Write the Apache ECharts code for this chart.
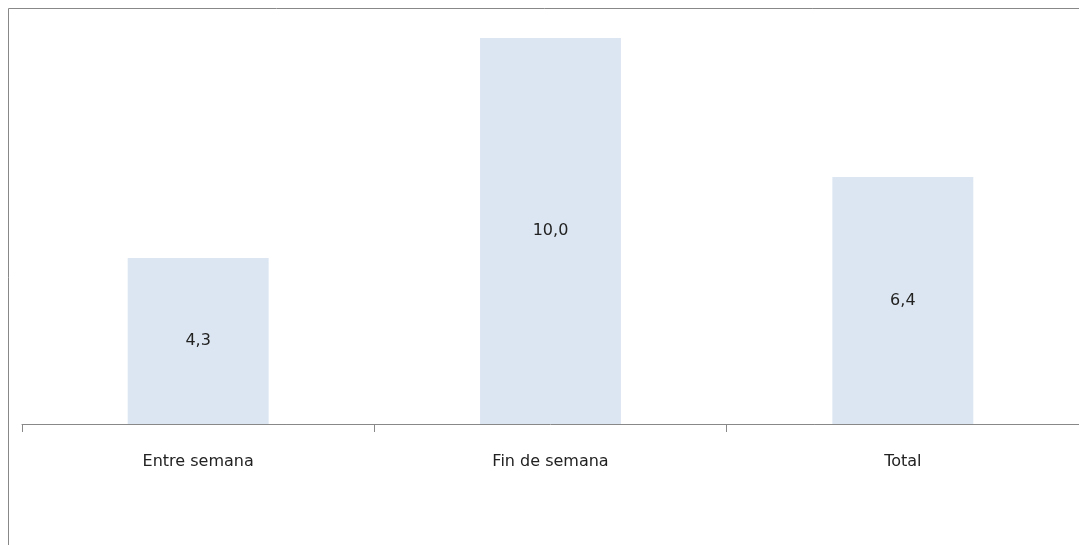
<!DOCTYPE html>
<html><head><meta charset="utf-8">
<script src="https://cdn.jsdelivr.net/npm/echarts@6/dist/echarts.min.js"></script>
<style>html,body{margin:0;padding:0;background:#fff}#c{width:1079px;height:545px}</style>
</head><body><div id="c"></div>
<script>
const categories = ['Entre semana', 'Fin de semana', 'Total'];
const values = [4.3, 10.0, 6.4];
const chart = echarts.init(document.getElementById('c'));
chart.setOption({
  animation: false,
  graphic: [{type:'rect', shape:{x:8.5,y:8.5,width:1100,height:600}, style:{fill:'none', stroke:'#888', lineWidth:1}}],
  grid: {left: 22, right: 0, top: 38, bottom: 121},
  xAxis: {type:'category', data: categories,
    axisLine:{lineStyle:{color:'#888'}},
    axisTick:{show:true, length:8, lineStyle:{color:'#888'}},
    axisLabel:{color:'#222', fontSize:16, fontFamily:'DejaVu Sans', margin:30}},
  yAxis: {type:'value', min:0, max:10, show:false, splitLine:{show:false}},
  series: [{type:'bar', data: values, barWidth: '40%',
    itemStyle:{color:'#dce6f2'},
    label:{show:true, position:'inside', color:'#222', fontSize:16, fontFamily:'DejaVu Sans',
      formatter: p => p.value.toFixed(1).replace('.', ',')}}]
});
</script></body></html>
